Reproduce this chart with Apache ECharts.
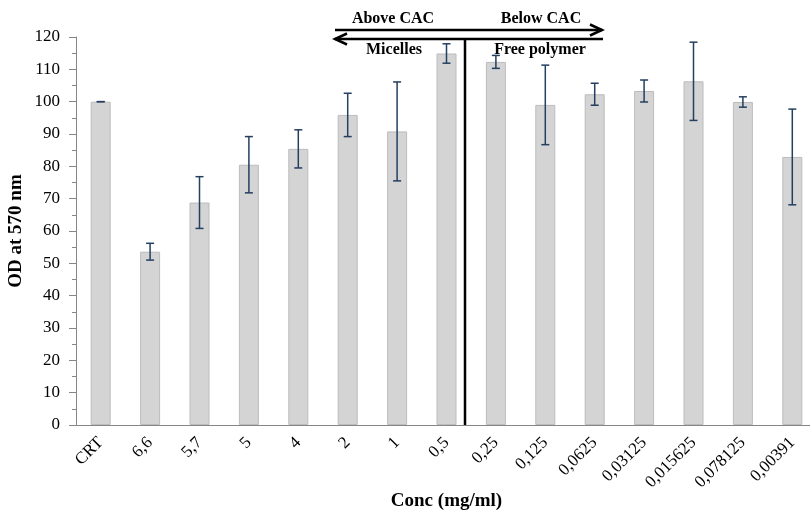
<!DOCTYPE html>
<html lang="en">
<head>
    <meta charset="UTF-8">
    <title>OD at 570 nm</title>
    <script src="https://cdn.jsdelivr.net/npm/echarts@6/dist/echarts.min.js"></script>
</head>
<body style="margin:0">
<div id="main" style="width: 810px;height:510px;"></div>

<script type="text/javascript">
    // data
    var categories = ['CRT', '6,6', '5,7', '5', '4', '2', '1', '0,5', '0,25', '0,125', '0,0625', '0,03125', '0,015625', '0,078125', '0,00391']
    var odValues = [100, 53.6, 68.8, 80.5, 85.4, 95.9, 90.8, 114.9, 112.3, 99.0, 102.3, 103.3, 106.3, 99.9, 82.9]
    var errValues = [0, 2.6, 8.0, 8.7, 5.9, 6.7, 15.3, 3.0, 2.0, 12.3, 3.4, 3.4, 12.1, 1.6, 14.8]

    var serif = '"Liberation Serif", "Times New Roman", serif'

    var errData = []
    odValues.forEach((v, i) => {
        errData.push([i, v - errValues[i], v + errValues[i]])
    })

    var myChart = echarts.init(document.getElementById('main'))

    myChart.setOption({
        animation: false,
        backgroundColor: '#fff',
        grid: {left: 76, right: -7, top: 37, bottom: 85, containLabel: false, outerBoundsMode: 'none'},
        xAxis: {
            type: 'category',
            data: categories,
            name: 'Conc (mg/ml)',
            nameLocation: 'middle',
            nameGap: 67,
            nameMoveOverlap: false,
            nameTextStyle: {fontFamily: serif, fontWeight: 'bold', fontSize: 19, color: '#000'},
            axisLine: {lineStyle: {color: '#868686'}},
            axisTick: {length: 5, lineStyle: {color: '#868686'}},
            axisLabel: {rotate: 45, interval: 0, fontFamily: serif, fontSize: 17, color: '#000', margin: 15}
        },
        yAxis: {
            type: 'value',
            min: 0,
            max: 120,
            interval: 10,
            name: 'OD at 570 nm',
            nameLocation: 'middle',
            nameGap: 50,
            nameMoveOverlap: false,
            nameTextStyle: {fontFamily: serif, fontWeight: 'bold', fontSize: 19, color: '#000'},
            axisLine: {show: true, lineStyle: {color: '#868686'}},
            axisTick: {show: true, length: 7, lineStyle: {color: '#868686'}},
            minorTick: {show: true, splitNumber: 2, length: 4, lineStyle: {color: '#868686'}},
            splitLine: {show: false},
            axisLabel: {fontFamily: serif, fontSize: 17, color: '#000', margin: 16}
        },
        series: [
            {
                type: 'bar',
                data: odValues,
                barWidth: 20,
                itemStyle: {color: '#d4d4d4', borderColor: '#bcbcbc', borderWidth: 1}
            },
            {
                type: 'custom',
                data: errData,
                z: 5,
                renderItem: function (params, api) {
                    var lo = api.coord([api.value(0), api.value(1)])
                    var hi = api.coord([api.value(0), api.value(2)])
                    var w = 4
                    var st = {stroke: '#243f60', lineWidth: 1.5}
                    return {
                        type: 'group',
                        children: [
                            {type: 'line', shape: {x1: hi[0], y1: hi[1], x2: lo[0], y2: lo[1]}, style: st},
                            {type: 'line', shape: {x1: hi[0] - w, y1: hi[1], x2: hi[0] + w, y2: hi[1]}, style: st},
                            {type: 'line', shape: {x1: lo[0] - w, y1: lo[1], x2: lo[0] + w, y2: lo[1]}, style: st}
                        ]
                    }
                }
            }
        ],
        graphic: [
            // divider between micelles and free polymer
            {type: 'line', shape: {x1: 465, y1: 39, x2: 465, y2: 425}, style: {stroke: '#000', lineWidth: 2.5}, z: 10},
            // right arrow
            {type: 'line', shape: {x1: 335, y1: 30, x2: 602, y2: 30}, style: {stroke: '#000', lineWidth: 2.5}, z: 10},
            {type: 'polyline', shape: {points: [[590, 24.5], [602, 30], [590, 35.5]]}, style: {stroke: '#000', lineWidth: 2.5, fill: null}, z: 10},
            // left arrow
            {type: 'line', shape: {x1: 335, y1: 39, x2: 603, y2: 39}, style: {stroke: '#000', lineWidth: 2.5}, z: 10},
            {type: 'polyline', shape: {points: [[347, 33.5], [335, 39], [347, 44.5]]}, style: {stroke: '#000', lineWidth: 2.5, fill: null}, z: 10},
            {type: 'text', x: 393, y: 19, style: {text: 'Above CAC', font: 'bold 16px ' + serif, fill: '#000', align: 'center', verticalAlign: 'middle'}, z: 10},
            {type: 'text', x: 541, y: 19, style: {text: 'Below CAC', font: 'bold 16px ' + serif, fill: '#000', align: 'center', verticalAlign: 'middle'}, z: 10},
            {type: 'text', x: 394, y: 50, style: {text: 'Micelles', font: 'bold 16px ' + serif, fill: '#000', align: 'center', verticalAlign: 'middle'}, z: 10},
            {type: 'text', x: 540, y: 50, style: {text: 'Free polymer', font: 'bold 16px ' + serif, fill: '#000', align: 'center', verticalAlign: 'middle'}, z: 10}
        ]
    })
</script>

</body>
</html>
